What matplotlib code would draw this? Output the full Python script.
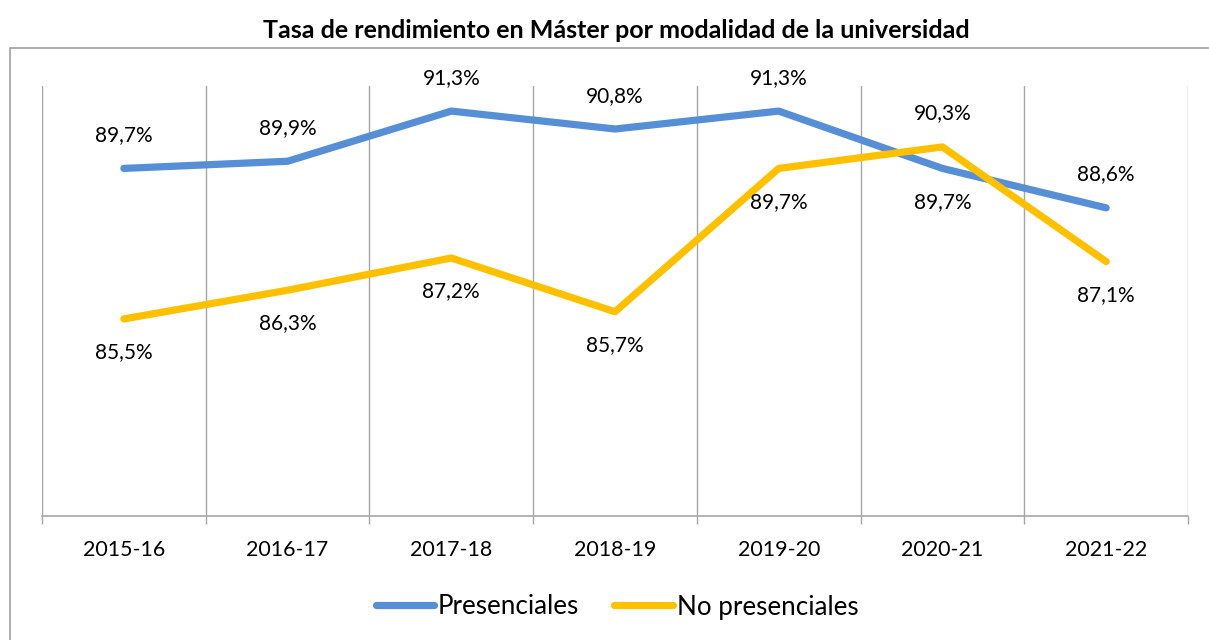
import matplotlib
matplotlib.use("Agg")
import matplotlib.pyplot as plt
from matplotlib.patches import Rectangle

categories = ["2015-16", "2016-17", "2017-18", "2018-19", "2019-20", "2020-21", "2021-22"]
presenciales = [89.7, 89.9, 91.3, 90.8, 91.3, 89.7, 88.6]
no_presenciales = [85.5, 86.3, 87.2, 85.7, 89.7, 90.3, 87.1]
# label placement: +1 above, -1 below
pres_pos = [1, 1, 1, 1, 1, -1, 1]
nopres_pos = [-1, -1, -1, -1, -1, 1, -1]

title = "Tasa de rendimiento en Máster por modalidad de la universidad"
blue = "#568FD6"
yellow = "#FFC000"
grid_c = "#A6A6A6"

plt.rcParams['font.family'] = ['Lato', 'DejaVu Sans']

W, H = 1209, 640
fig = plt.figure(figsize=(W / 100, H / 100), dpi=100)
fig.patches.append(Rectangle((10 / W, -0.1), 1.2, 1 - 48 / H + 0.1, transform=fig.transFigure,
                             fill=False, edgecolor="#A0A0A0", linewidth=1.2))
ax = fig.add_axes([42 / W, 1 - 516 / H, (1188 - 42) / W, (516 - 86) / H])

x = list(range(len(categories)))
ax.plot(x, presenciales, color=blue, linewidth=5.2, solid_capstyle='round', label="Presenciales", zorder=3)
ax.plot(x, no_presenciales, color=yellow, linewidth=5.2, solid_capstyle='round', label="No presenciales", zorder=3)

ax.set_xlim(-0.5, len(categories) - 0.5)
ax.set_ylim(80, 92)

for xi, v, p in zip(x, presenciales, pres_pos):
    ax.annotate(f"{v:.1f}%".replace(".", ","), (xi, v), xytext=(0, 24 * p), textcoords="offset points",
                ha="center", va="center", fontsize=15, color="black")
for xi, v, p in zip(x, no_presenciales, nopres_pos):
    ax.annotate(f"{v:.1f}%".replace(".", ","), (xi, v), xytext=(0, 24 * p), textcoords="offset points",
                ha="center", va="center", fontsize=15, color="black")

# vertical gridlines at category boundaries
for b in [i - 0.5 for i in range(len(categories) + 1)]:
    ax.axvline(b, color=grid_c, linewidth=1.0, zorder=1)

ax.set_xticks(x)
ax.set_xticklabels(categories, fontsize=15.4)
ax.tick_params(axis='x', length=0, pad=17)
ax.set_xticks([i - 0.5 for i in range(len(categories) + 1)], minor=True)
ax.tick_params(axis='x', which='minor', length=6, color=grid_c, width=1.0)
ax.set_yticks([])
for s in ["top", "left", "right"]:
    ax.spines[s].set_visible(False)
ax.spines["bottom"].set_color(grid_c)
ax.spines["bottom"].set_linewidth(1.2)

fig.text(616 / W, 1 - 30 / H, title, ha="center", va="center", fontsize=18, fontweight="bold")

fig.legend(loc="center", bbox_to_anchor=(617 / W, 1 - 607 / H), ncol=2, frameon=False,
           fontsize=18.7, handlelength=2.25, handletextpad=0.15, columnspacing=1.35)

fig.savefig("out.png", dpi=100)
